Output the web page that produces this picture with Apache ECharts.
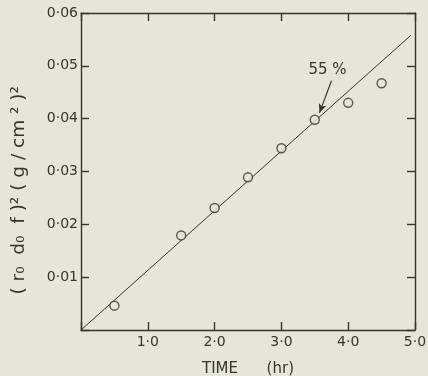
<!DOCTYPE html>
<html><head><meta charset="utf-8">
<script src="https://cdn.jsdelivr.net/npm/echarts@6/dist/echarts.min.js"></script>
<style>html,body{margin:0;padding:0;background:#e7e5d5;}#c{width:428px;height:376px;}</style>
</head><body><div id="c"></div>
<script>
var timeHr = [0.5, 1.5, 2.0, 2.5, 3.0, 3.5, 4.0, 4.5];
var yValue = [0.0046, 0.0179, 0.0231, 0.0289, 0.0344, 0.0398, 0.0430, 0.0467];
var fitLine = [[0, 0], [4.94, 0.0558]];
var xTickLabels = {1: '1·0', 2: '2·0', 3: '3·0', 4: '4·0', 5: '5·0'};
var yTickLabels = {0.01: '0·01', 0.02: '0·02', 0.03: '0·03', 0.04: '0·04', 0.05: '0·05', 0.06: '0·06'};
var xTitle = 'TIME      (hr)';
var yTitle = '( r\u2080  d\u2080  f )\u00b2 ( g / cm \u00b2 )\u00b2';
var annotText = '55 %';
var annotPos = [3.69, 0.0491];
var arrowFrom = [3.75, 0.0472];
var arrowTo = [3.57, 0.0411];

var ink = '#35352f';
var font = 'DejaVu Sans';
var chart = echarts.init(document.getElementById('c'));
function yLab(v){ var k = Math.round(v*100)/100; return yTickLabels[k] || ''; }
function xLab(v){ return xTickLabels[Math.round(v)] || ''; }
function common(){ return {
  axisLine: {show: true, onZero: false, lineStyle: {color: ink, width: 1.4}},
  axisTick: {show: true, inside: true, length: 8, lineStyle: {color: ink, width: 1.4}},
  splitLine: {show: false}
};}
chart.setOption({
  backgroundColor: '#e7e5d5',
  animation: false,
  grid: {left: 81, right: 13, top: 13, bottom: 46, containLabel: false, outerBoundsMode: 'none'},
  graphic: [{
    type: 'text', left: 10, top: 86,
    rotation: Math.PI / 2, originX: 0, originY: 0,
    style: {text: yTitle, fill: ink, fontSize: 18.5, fontFamily: font}
  }],
  xAxis: [
    Object.assign({type: 'value', min: 0, max: 5, interval: 1, position: 'bottom',
      name: xTitle, nameLocation: 'middle', nameGap: 32,
      nameTextStyle: {color: ink, fontSize: 15, fontFamily: font},
      axisLabel: {color: ink, fontSize: 14, fontFamily: font, margin: 5, formatter: xLab}}, common()),
    Object.assign({type: 'value', min: 0, max: 5, interval: 1, position: 'top',
      axisLabel: {show: false}}, common())
  ],
  yAxis: [
    Object.assign({type: 'value', min: 0, max: 0.06, interval: 0.01, position: 'left',
      axisLabel: {color: ink, fontSize: 14, fontFamily: font, margin: 3, formatter: yLab}}, common()),
    Object.assign({type: 'value', min: 0, max: 0.06, interval: 0.01, position: 'right',
      axisLabel: {show: false}}, common())
  ],
  series: [
    {type: 'line', data: fitLine, symbol: 'none', lineStyle: {color: ink, width: 1}, z: 2,
      markLine: {silent: true, symbol: ['none', 'arrow'], symbolSize: [6, 9],
        lineStyle: {color: ink, width: 1.2, type: 'solid'}, label: {show: false},
        data: [[{coord: arrowFrom}, {coord: arrowTo}]]},
      markPoint: {symbol: 'circle', symbolSize: 0,
        label: {show: true, formatter: annotText, color: ink, fontSize: 15, fontFamily: font, position: 'inside'},
        data: [{coord: annotPos}]}
    },
    {type: 'scatter', data: timeHr.map(function(t, i){ return [t, yValue[i]]; }),
      symbol: 'circle', symbolSize: 9, z: 3,
      itemStyle: {color: '#e7e5d5', borderColor: ink, borderWidth: 1.4}}
  ]
});
</script></body></html>
